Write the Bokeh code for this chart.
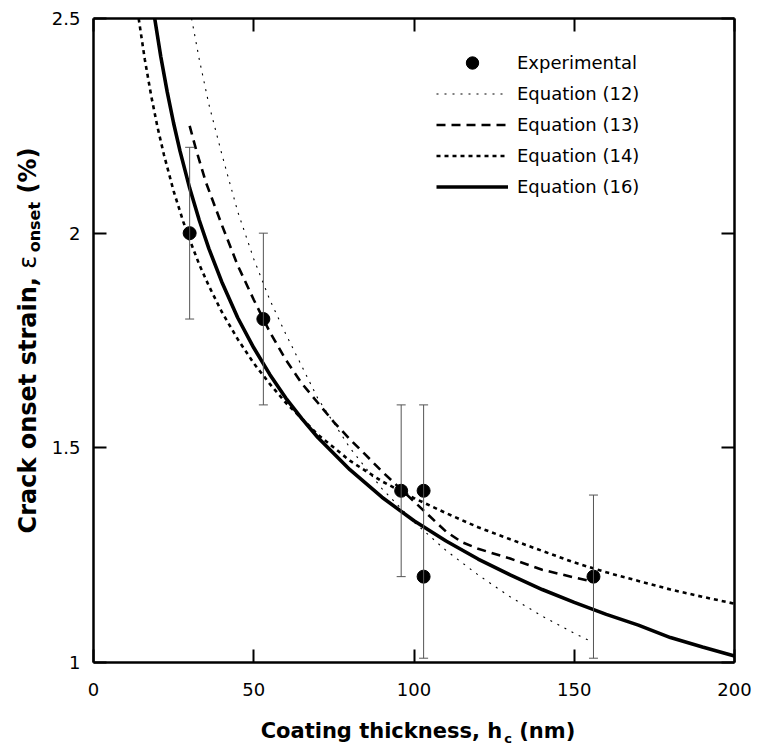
from bokeh.plotting import figure
from bokeh.models import (Range1d, FixedTicker, LinearAxis, Whisker, TeeHead, ColumnDataSource,
                          Legend, LegendItem)
from bokeh.core.properties import value
from bokeh.embed import file_html
from bokeh.resources import INLINE
import math

# ---------------- data ----------------
exp_x = [30, 53, 96, 103, 103, 156]
exp_y = [2.0, 1.8, 1.4, 1.4, 1.2, 1.2]

bar_x = [30, 53, 96, 103, 156]
bar_lo = [1.8, 1.6, 1.2, 1.01, 1.01]
bar_hi = [2.2, 2.0, 1.6, 1.6, 1.39]

eq12_x = [30.6, 33, 36, 40, 45, 50, 55, 60, 65, 70, 80, 90, 100, 110, 120, 130, 140, 150, 155]
eq12_y = [2.5, 2.405, 2.30, 2.185, 2.05, 1.94, 1.845, 1.765, 1.69, 1.615, 1.50, 1.405, 1.327, 1.261,
          1.204, 1.153, 1.108, 1.068, 1.05]

eq13_x = [30, 32, 35, 38, 40, 45, 50, 55, 60, 65, 70, 75, 80, 85, 90, 95, 100, 105, 110, 115, 120,
          130, 140, 150, 155]
eq13_y = [2.25, 2.195, 2.12, 2.06, 2.02, 1.925, 1.845, 1.77, 1.705, 1.65, 1.605, 1.56, 1.52, 1.483,
          1.445, 1.41, 1.375, 1.34, 1.305, 1.28, 1.265, 1.242, 1.216, 1.198, 1.19]

eq14_x = [14.1, 16, 18, 20, 22, 25, 28, 30, 33, 36, 40, 45, 50, 55, 60, 70, 80, 90, 100, 110, 120,
          130, 140, 150, 160, 170, 180, 190, 200]
eq14_y = [2.5, 2.405, 2.32, 2.246, 2.182, 2.098, 2.027, 1.985, 1.927, 1.877, 1.817, 1.753, 1.697,
          1.649, 1.605, 1.531, 1.47, 1.422, 1.383, 1.348, 1.315, 1.287, 1.26, 1.233, 1.21, 1.19,
          1.17, 1.153, 1.137]

eq16_x = [19.1, 21, 23, 25, 27, 30, 33, 36, 40, 45, 50, 55, 60, 65, 70, 80, 90, 100, 110, 120, 130,
          140, 150, 160, 170, 180, 190, 200]
eq16_y = [2.5, 2.411, 2.329, 2.256, 2.191, 2.105, 2.030, 1.964, 1.887, 1.803, 1.733, 1.671, 1.616,
          1.568, 1.524, 1.449, 1.385, 1.330, 1.283, 1.241, 1.204, 1.170, 1.140, 1.112, 1.087, 1.058,
          1.036, 1.015]

x_ticks = [0, 50, 100, 150, 200]
y_ticks = [1, 1.5, 2, 2.5]
y_tick_labels = {1: "1", 1.5: "1.5", 2: "2", 2.5: "2.5"}

legend_labels = ["Experimental", "Equation (12)", "Equation (13)", "Equation (14)", "Equation (16)"]

x_title = ["Coating thickness, h", "c", "(nm)"]
y_title = ["Crack onset strain,", "\u03b5", "onset", "(%)"]

# ---------------- geometry (pixels) ----------------
W, H = 759, 746
BOX_L, BOX_R, BOX_T, BOX_B = 93, 734, 18, 662
X0, X1, Y0, Y1 = 0, 200, 1, 2.5
KX = (BOX_R - BOX_L) / (X1 - X0)
KY = (BOX_B - BOX_T) / (Y1 - Y0)
XA = X0 - BOX_L / KX
XB = XA + W / KX
YB = Y1 + BOX_T / KY
YA = YB - H / KY
FONT = "DejaVu Sans"


def dx(px):
    return XA + px / KX


def dy(py):
    return YB - py / KY


p = figure(width=W, height=H, min_border=0, x_range=Range1d(XA, XB), y_range=Range1d(YA, YB),
           x_axis_location=None, y_axis_location=None,
           output_backend="svg", toolbar_location=None)
p.background_fill_color = "white"
p.border_fill_color = "white"
p.outline_line_color = None
p.xgrid.visible = False
p.ygrid.visible = False


def make_axis(ticks, loc, bounds, show_labels, standoff):
    ax = LinearAxis(fixed_location=loc, bounds=bounds)
    ax.ticker = FixedTicker(ticks=ticks)
    ax.minor_tick_line_color = None
    ax.major_tick_in = 13
    ax.major_tick_out = 0
    ax.major_tick_line_width = 2
    ax.major_tick_line_color = "black"
    ax.axis_line_color = "black"
    ax.axis_line_width = 2.5
    ax.major_label_text_font = FONT
    ax.major_label_text_font_size = "18px"
    ax.major_label_text_color = "black"
    ax.major_label_standoff = standoff
    if not show_labels:
        ax.major_label_overrides = {t: "" for t in ticks}
        ax.major_label_standoff = 0
    return ax


xb_ax = make_axis(x_ticks, Y0, (X0, X1), True, 20)
xt_ax = make_axis(x_ticks, Y1, (X0, X1), False, 0)
yl_ax = make_axis(y_ticks, X0, (Y0, Y1), True, 13)
yl_ax.major_label_overrides = y_tick_labels
yr_ax = make_axis(y_ticks, X1, (Y0, Y1), False, 0)
p.add_layout(xb_ax, "below")
p.add_layout(xt_ax, "above")
p.add_layout(yl_ax, "left")
p.add_layout(yr_ax, "right")

# curves
r12 = p.line(eq12_x, eq12_y, line_color="black", line_width=1.1, line_dash="2 6")
r13 = p.line(eq13_x, eq13_y, line_color="black", line_width=2.6, line_dash="9 6")
r14 = p.line(eq14_x, eq14_y, line_color="black", line_width=2.6, line_dash="4 4")
r16 = p.line(eq16_x, eq16_y, line_color="black", line_width=3.6)

# error bars
bsrc = ColumnDataSource(dict(x=bar_x, lo=bar_lo, hi=bar_hi))
wk = Whisker(source=bsrc, base="x", lower="lo", upper="hi", line_color="#555555", line_width=1,
             upper_head=TeeHead(size=9, line_color="#555555", line_width=1),
             lower_head=TeeHead(size=9, line_color="#555555", line_width=1))
wk.level = "glyph"
p.add_layout(wk)

rexp = p.scatter(exp_x, exp_y, marker="circle", size=13, fill_color="black", line_color="black")

# legend
items = [LegendItem(label=lab, renderers=[r])
         for lab, r in zip(legend_labels, [rexp, r12, r13, r14, r16])]
legend = Legend(items=items, location=(436, H - 46.5 - 5 * 31), orientation="vertical",
                glyph_width=72, glyph_height=31, label_height=31, label_standoff=9, spacing=0,
                padding=0, margin=0, border_line_alpha=0, background_fill_alpha=0,
                label_text_font=FONT, label_text_font_size="18px", label_text_color="black")
p.add_layout(legend)

# ---------------- axis titles (pieces) ----------------
BOLDW = {' ': .348, '(': .459, ')': .459, '%': 1.002, ',': .380, 'C': .735, 'a': .675, 'c': .593,
         'e': .678, 'g': .716, 'h': .712, 'i': .343, 'k': .665, 'm': 1.042, 'n': .712, 'o': .687,
         'r': .493, 's': .595, 't': .478}
FIT = 1.0


def tw(s, size, default=0.6):
    return sum(BOLDW.get(ch, default) for ch in s) * size * FIT


def put(xpx, ypx, txt, size, bold=True, angle=0.0):
    p.text(x=[dx(xpx)], y=[dy(ypx)], text=[txt], text_font=value(FONT),
           text_font_size=value(f"{size}px"), text_font_style="bold" if bold else "normal",
           text_align="left", text_baseline="alphabetic", text_color="black", angle=angle)


# x title
XS, XSUB = 21, 13
wa = tw(x_title[0], XS)
wb = tw(x_title[1], XSUB)
gap = tw(" ", XS)
wc = tw(x_title[2], XS)
cx = (BOX_L + BOX_R) / 2 + 4
sx0 = cx - (wa + 2 + wb + gap + wc) / 2
put(sx0, 730, x_title[0], XS)
put(sx0 + wa + 2, 738, x_title[1], XSUB)
put(sx0 + wa + 2 + wb + gap, 730, x_title[2], XS)

# y title (rotated, reading upward)
YS, YSUB = 24, 16
w_a = tw(y_title[0], YS)
g_y = tw(" ", YS)
w_b = 0.6 * YS
w_c = tw(y_title[2], YSUB)
w_d = tw(y_title[3], YS)
total = w_a + g_y + w_b + 2 + w_c + g_y + w_d
y_start = (BOX_T + BOX_B) / 2 + total / 2
bx = 27
rot = math.pi / 2
put(bx, y_start, y_title[0], YS, True, rot)
put(bx, y_start - w_a - g_y, y_title[1], YS, False, rot)
put(bx + 7, y_start - w_a - g_y - w_b - 2, y_title[2], YSUB, True, rot)
put(bx, y_start - w_a - g_y - w_b - 2 - w_c - g_y, y_title[3], YS, True, rot)

open("out.html", "w").write(file_html(p, INLINE))
